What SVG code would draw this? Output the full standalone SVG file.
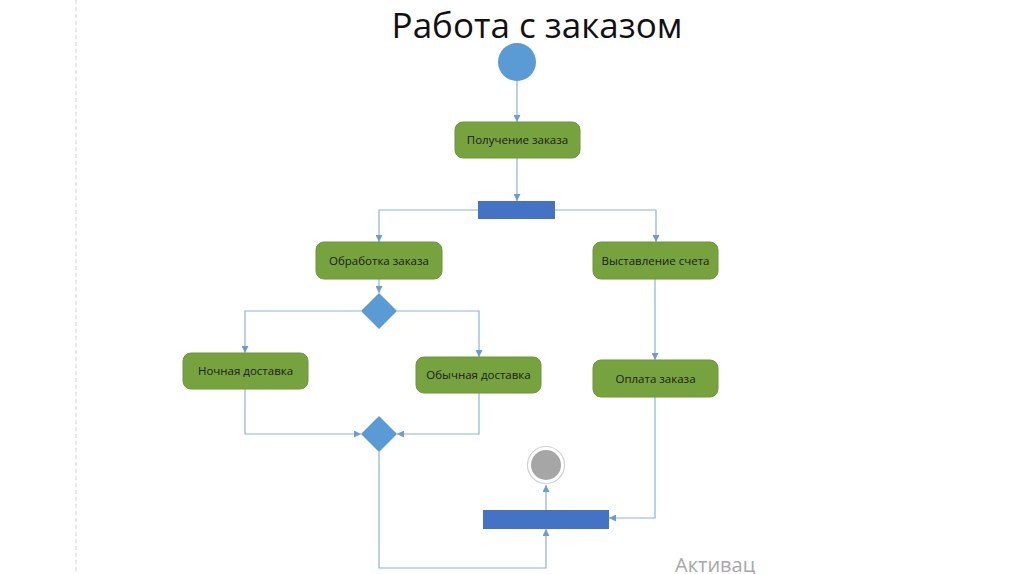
<svg xmlns="http://www.w3.org/2000/svg" width="1024" height="574" viewBox="0 0 1024 574">
<style>
.act{fill:#77a33f;stroke:#6d9638;stroke-width:1}
.lbl{font-family:"Open Sans","Liberation Sans",sans-serif;font-size:11.5px;fill:#1a1a1a;text-anchor:middle}
.bar{fill:#4472c4}
.dec{fill:#5b9bd5}
.con{fill:none;stroke:#8eb2dc;stroke-width:1.2;marker-end:url(#ah)}
</style>
<defs>
<marker id="ah" viewBox="0 0 10 10" refX="10" refY="5" markerWidth="7" markerHeight="7" markerUnits="userSpaceOnUse" orient="auto">
<path d="M0,0 L10,5 L0,10 z" fill="#6f9bd3"/>
</marker>
</defs>
<rect width="1024" height="574" fill="#ffffff"/>
<line x1="76" y1="0" x2="76" y2="574" stroke="#e2e2e2" stroke-width="1.5" stroke-dasharray="4,3"/>
<text x="537" y="38" font-family="'Open Sans','Liberation Sans',sans-serif" font-size="35" fill="#111" text-anchor="middle">Работа с заказом</text>
<g id="connectors">
<path class="con" d="M517,81 V122"/>
<path class="con" d="M517,158 V201"/>
<path class="con" d="M478,210 H379 V242"/>
<path class="con" d="M555,210 H656 V242"/>
<path class="con" d="M379,279 V293"/>
<path class="con" d="M361,311 H245 V353"/>
<path class="con" d="M397,311 H479 V357"/>
<path class="con" d="M245,389 V434 H361"/>
<path class="con" d="M479,393 V434 H397"/>
<path class="con" d="M379,452 V568 H546 V529"/>
<path class="con" d="M655,279 V360"/>
<path class="con" d="M655,397 V518 H609"/>
<path class="con" d="M546,510 V485"/>
</g>
<g id="start"><circle cx="517" cy="62" r="19" fill="#5b9bd5"/></g>
<g id="n_receive"><rect class="act" x="455" y="122" width="125" height="36" rx="8"/><text class="lbl" x="517.5" y="144">Получение заказа</text></g>
<g id="fork"><rect class="bar" x="478" y="201" width="77" height="18"/></g>
<g id="n_process"><rect class="act" x="316" y="242" width="126" height="37" rx="8"/><text class="lbl" x="379" y="265">Обработка заказа</text></g>
<g id="n_invoice"><rect class="act" x="593" y="242" width="125" height="37" rx="8"/><text class="lbl" x="655.5" y="265">Выставление счета</text></g>
<g id="decision"><polygon class="dec" points="379,293 397,311 379,329 361,311"/></g>
<g id="n_night"><rect class="act" x="183" y="353" width="125" height="36" rx="8"/><text class="lbl" x="245.5" y="375">Ночная доставка</text></g>
<g id="n_regular"><rect class="act" x="416" y="357" width="125" height="36" rx="8"/><text class="lbl" x="478.5" y="379">Обычная доставка</text></g>
<g id="n_payment"><rect class="act" x="593" y="360" width="125" height="37" rx="8"/><text class="lbl" x="655.5" y="383">Оплата заказа</text></g>
<g id="merge"><polygon class="dec" points="379,416 397,434 379,452 361,434"/></g>
<g id="join"><rect class="bar" x="483" y="510" width="126" height="19"/></g>
<g id="end"><circle cx="546" cy="465" r="18.5" fill="#fff" stroke="#d0d0d0" stroke-width="1.2"/><circle cx="546" cy="465" r="15" fill="#a6a6a6"/></g>
<text x="675" y="572" font-family="'Open Sans','Liberation Sans',sans-serif" font-size="20" fill="#a8a8a8">Активац</text>
</svg>
